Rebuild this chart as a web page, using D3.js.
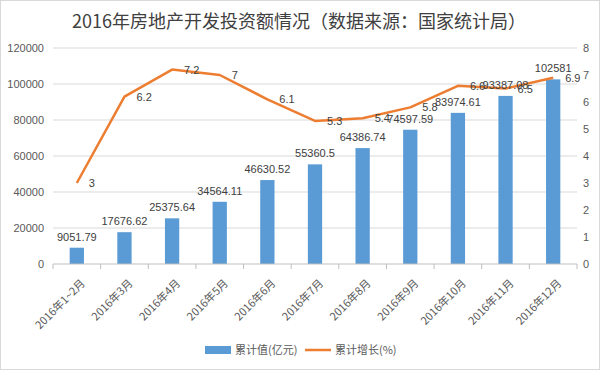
<!DOCTYPE html>
<html><head><meta charset="utf-8">
<script src="https://cdn.jsdelivr.net/npm/d3@7"></script>
<style>body{margin:0;background:#fff}svg{display:block;font-family:"Noto Sans CJK SC","Noto Sans",sans-serif}</style>
</head><body><svg id="c" width="600" height="370"></svg>
<script>
const categories = ["2016年1~2月","2016年3月","2016年4月","2016年5月","2016年6月","2016年7月","2016年8月","2016年9月","2016年10月","2016年11月","2016年12月"];
const cumValues = [9051.79,17676.62,25375.64,34564.11,46630.52,55360.5,64386.74,74597.59,83974.61,93387.08,102581];
const cumLabels = ["9051.79","17676.62","25375.64","34564.11","46630.52","55360.5","64386.74","74597.59","83974.61","93387.08","102581"];
const growth = [3,6.2,7.2,7,6.1,5.3,5.4,5.8,6.6,6.5,6.9];
const leftTicks = [0,20000,40000,60000,80000,100000,120000];
const rightTicks = [0,1,2,3,4,5,6,7,8];
const title = "2016年房地产开发投资额情况（数据来源：国家统计局）";
const seriesNames = ["累计值(亿元)","累计增长(%)"];

const svg = d3.select("#c");
svg.append("rect").attr("x",0.5).attr("y",0.5).attr("width",599).attr("height",369).attr("fill","#fff").attr("stroke","#d9d9d9");
const L=53, R=577, T=48, B=264;
const x = d3.scaleBand().domain(categories).range([L,R]).paddingInner(0.7).paddingOuter(0.35);
const yL = d3.scaleLinear().domain([0,120000]).range([B,T]);
const yR = d3.scaleLinear().domain([0,8]).range([B,T]);

svg.append("text").attr("x",299).attr("y",28).attr("text-anchor","middle").attr("font-size",18).attr("fill","#404040").text(title);

// grid
svg.append("g").selectAll("line").data(leftTicks.filter(d=>d>0)).join("line")
  .attr("x1",L).attr("x2",R).attr("y1",d=>yL(d)).attr("y2",d=>yL(d)).attr("stroke","#d9d9d9");

const gl = svg.append("g").attr("transform",`translate(${L},0)`).call(d3.axisLeft(yL).tickValues(leftTicks).tickSize(0).tickPadding(9).tickFormat(d3.format("d")));
gl.select(".domain").remove();
gl.selectAll("text").attr("font-size",11).attr("fill","#595959").attr("font-family","Liberation Sans, sans-serif");
const gr = svg.append("g").attr("transform",`translate(${R},0)`).call(d3.axisRight(yR).tickValues(rightTicks).tickSize(0).tickPadding(6));
gr.select(".domain").remove();
gr.selectAll("text").attr("font-size",11).attr("fill","#595959").attr("font-family","Liberation Sans, sans-serif");

// bars
svg.append("g").selectAll("rect").data(cumValues).join("rect")
  .attr("x",(d,i)=>x(categories[i])).attr("width",x.bandwidth())
  .attr("y",d=>yL(d)).attr("height",d=>B-yL(d)).attr("fill","#5B9BD5");

// x axis
const step = x.step();
const gx = svg.append("g").attr("transform",`translate(0,${B})`);
gx.append("line").attr("x1",L).attr("x2",R).attr("stroke","#bfbfbf");
gx.selectAll("line.t").data(d3.range(categories.length+1)).join("line").attr("class","t")
  .attr("x1",i=>L+i*step).attr("x2",i=>L+i*step).attr("y1",0).attr("y2",5).attr("stroke","#bfbfbf");
gx.selectAll("text").data(categories).join("text")
  .attr("transform",d=>`translate(${x(d)+x.bandwidth()/2+9},20) rotate(-45)`)
  .attr("text-anchor","end").attr("font-size",11).attr("fill","#595959").text(d=>d);

// line
const line = d3.line().x((d,i)=>x(categories[i])+x.bandwidth()/2).y(d=>yR(d));
svg.append("path").datum(growth).attr("d",line).attr("fill","none").attr("stroke","#ED7D31").attr("stroke-width",2.5).attr("stroke-linejoin","round");

// labels
svg.append("g").selectAll("text").data(cumValues).join("text")
  .attr("x",(d,i)=>x(categories[i])+x.bandwidth()/2).attr("y",d=>yL(d)-7)
  .attr("text-anchor","middle").attr("font-size",11).attr("fill","#404040").attr("font-family","Liberation Sans, sans-serif")
  .text((d,i)=>cumLabels[i]);
svg.append("g").selectAll("text").data(growth).join("text")
  .attr("x",(d,i)=>x(categories[i])+x.bandwidth()/2+12).attr("y",d=>yR(d)+4)
  .attr("font-size",11).attr("fill","#404040").attr("font-family","Liberation Sans, sans-serif")
  .text(d=>d);

// legend
const lg = svg.append("g").attr("transform","translate(205,350)");
lg.append("rect").attr("x",0).attr("y",-4).attr("width",26).attr("height",8).attr("fill","#5B9BD5");
lg.append("text").attr("x",30).attr("y",4).attr("font-size",11).attr("fill","#595959").text(seriesNames[0]);
lg.append("line").attr("x1",100).attr("x2",126).attr("y1",0).attr("y2",0).attr("stroke","#ED7D31").attr("stroke-width",2.5);
lg.append("text").attr("x",130).attr("y",4).attr("font-size",11).attr("fill","#595959").text(seriesNames[1]);
</script></body></html>
